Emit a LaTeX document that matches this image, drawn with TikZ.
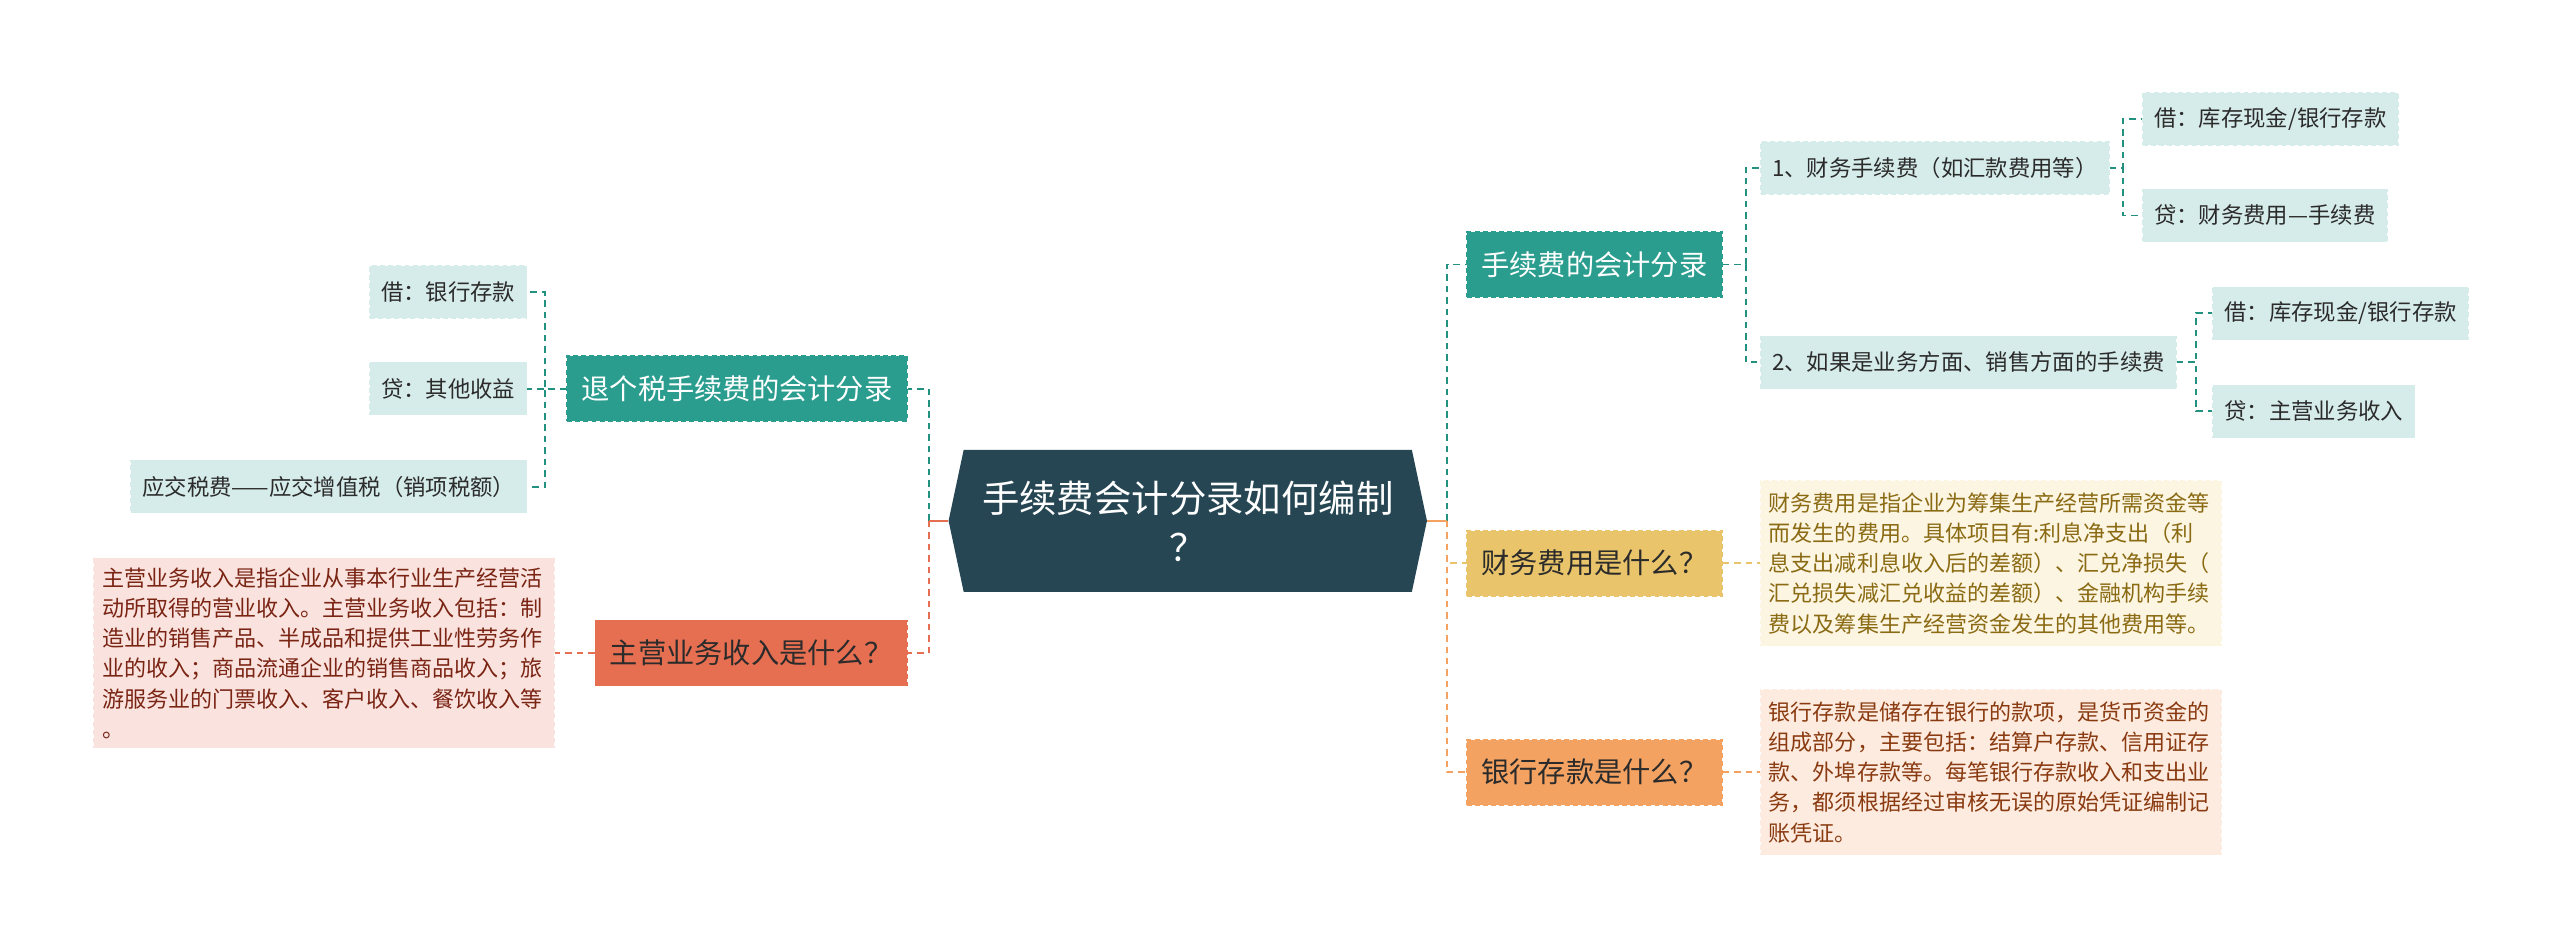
\documentclass[tikz,border=0pt]{standalone}
\usepackage{fontspec}
\newfontfamily\cjk{Noto Sans CJK SC}
\usetikzlibrary{shapes.symbols, positioning, calc}

\definecolor{rootbg}{HTML}{264653}
\definecolor{tealbg}{HTML}{2A9D8F}
\definecolor{tealline}{HTML}{23917F}
\definecolor{yellowbg}{HTML}{E9C46A}
\definecolor{orangebg}{HTML}{F4A261}
\definecolor{coralbg}{HTML}{E76F51}
\definecolor{leafbg}{HTML}{D6ECEA}
\definecolor{pinkbg}{HTML}{FAE3DE}
\definecolor{creambg}{HTML}{FCF5E2}
\definecolor{peachbg}{HTML}{FDEBDF}
\definecolor{pinktxt}{HTML}{7A2414}
\definecolor{creamtxt}{HTML}{8A6A12}
\definecolor{peachtxt}{HTML}{8A3A10}
\definecolor{darktxt}{HTML}{2B2B2B}

\tikzset{
  rootbox/.style={shape=signal, signal to=west and east, signal pointer angle=156,
    fill=rootbg, text=white, minimum width=293pt, minimum height=87pt, inner sep=0pt,
    text width=262pt, align=center, font=\cjk\fontsize{22.9}{30}\selectfont},
  topic/.style={font=\cjk\fontsize{17.3}{20}\selectfont, inner xsep=9pt, inner ysep=0pt,
    minimum height=40pt, dash pattern=on 3pt off 2pt, line width=0.8pt},
  leaf/.style={font=\cjk\fontsize{13.7}{16}\selectfont, fill=leafbg, draw=leafbg, text=darktxt,
    inner xsep=7pt, inner ysep=0pt, minimum height=32pt, dash pattern=on 3pt off 2pt, line width=0.8pt},
  desc/.style={font=\cjk\fontsize{13.5}{18.5}\selectfont, align=left, text width=272pt,
    inner xsep=5pt, inner ysep=0pt, dash pattern=on 3pt off 2pt, line width=0.8pt},
  link/.style={line width=1.2pt, dash pattern=on 4pt off 3pt},
  stub/.style={line width=1.4pt}
}

\begin{document}
\begin{tikzpicture}[x=1pt, y=-1pt]
  \useasboundingbox (0,0) rectangle (1568,583);

  \coordinate (root)  at (727.5, 319);
  \coordinate (tui)   at (556, 238);
  \coordinate (zhu)   at (556, 400);
  \coordinate (sxf)   at (898, 162);
  \coordinate (cwf)   at (898, 345);
  \coordinate (yhc)   at (898, 473);

  % centre
  \node[rootbox] (ROOT) at (root) {手续费会计分录如何编制\\？};

  % left side
  \node[topic, fill=tealbg, draw=tealbg, text=white, anchor=east] (TUI) at (tui) {退个税手续费的会计分录};
  \node[leaf, anchor=east] (JIE) at (323, 179) {借：银行存款};
  \node[leaf, anchor=east] (DAI) at (323, 238) {贷：其他收益};
  \node[leaf, anchor=east] (YJS) at (323, 298) {应交税费——应交增值税（销项税额）};

  \node[topic, fill=coralbg, draw=coralbg, text=darktxt, anchor=east] (ZHU) at (zhu) {主营业务收入是什么？};
  \node[desc, fill=pinkbg, draw=pinkbg, text=pinktxt, minimum height=116pt, anchor=east] (ZHUD) at (340, 400)
    {主营业务收入是指企业从事本行业生产经营活\\动所取得的营业收入。主营业务收入包括：制\\造业的销售产品、半成品和提供工业性劳务作\\业的收入；商品流通企业的销售商品收入；旅\\游服务业的门票收入、客户收入、餐饮收入等\\。};

  % right side
  \node[topic, fill=tealbg, draw=tealbg, text=white, anchor=west] (SXF) at (sxf) {手续费的会计分录};
  \node[leaf, anchor=west] (ONE) at (1078, 103) {1、财务手续费（如汇款费用等）};
  \node[leaf, anchor=west] (TWO) at (1078, 222) {2、如果是业务方面、销售方面的手续费};
  \node[leaf, anchor=west] (ONEA) at (1312, 73) {借：库存现金/银行存款};
  \node[leaf, anchor=west] (ONEB) at (1312, 132) {贷：财务费用—手续费};
  \node[leaf, anchor=west] (TWOA) at (1355, 192) {借：库存现金/银行存款};
  \node[leaf, anchor=west] (TWOB) at (1355, 252) {贷：主营业务收入};

  \node[topic, fill=yellowbg, draw=yellowbg, text=darktxt, anchor=west] (CWF) at (cwf) {财务费用是什么？};
  \node[desc, fill=creambg, draw=creambg, text=creamtxt, minimum height=101pt, anchor=west] (CWFD) at (1078, 345)
    {财务费用是指企业为筹集生产经营所需资金等\\而发生的费用。具体项目有:利息净支出（利\\息支出减利息收入后的差额）、汇兑净损失（\\汇兑损失减汇兑收益的差额）、金融机构手续\\费以及筹集生产经营资金发生的其他费用等。};

  \node[topic, fill=orangebg, draw=orangebg, text=darktxt, anchor=west] (YHC) at (yhc) {银行存款是什么？};
  \node[desc, fill=peachbg, draw=peachbg, text=peachtxt, minimum height=101pt, anchor=west] (YHCD) at (1078, 473)
    {银行存款是储存在银行的款项，是货币资金的\\组成部分，主要包括：结算户存款、信用证存\\款、外埠存款等。每笔银行存款收入和支出业\\务，都须根据经过审核无误的原始凭证编制记\\账凭证。};

  % connectors
  \coordinate (rootL) at ($(ROOT.west)+(-12,0)$);
  \coordinate (rootR) at ($(ROOT.east)+(12,0)$);

  \draw[link, tealline] (rootL) |- (TUI.east);
  \draw[link, coralbg] (rootL) |- (ZHU.east);
  \draw[stub, coralbg] (ROOT.west) -- (rootL);
  \draw[link, tealline] (TUI.west) -- ++(-13,0) |- (JIE.east);
  \draw[link, tealline] (TUI.west) -- (DAI.east);
  \draw[link, tealline] (TUI.west) -- ++(-13,0) |- (YJS.east);
  \draw[link, coralbg] (ZHU.west) -- (ZHUD.east);

  \draw[link, tealline] (rootR) |- (SXF.west);
  \draw[link, yellowbg] (rootR) |- (CWF.west);
  \draw[link, orangebg] (rootR) |- (YHC.west);
  \draw[stub, orangebg] (ROOT.east) -- (rootR);
  \draw[link, tealline] (SXF.east) -- ++(14,0) |- (ONE.west);
  \draw[link, tealline] (SXF.east) -- ++(14,0) |- (TWO.west);
  \draw[link, tealline] (ONE.east) -- ++(8,0) |- (ONEA.west);
  \draw[link, tealline] (ONE.east) -- ++(8,0) |- (ONEB.west);
  \draw[link, tealline] (TWO.east) -- ++(12,0) |- (TWOA.west);
  \draw[link, tealline] (TWO.east) -- ++(12,0) |- (TWOB.west);
  \draw[link, yellowbg] (CWF.east) -- (CWFD.west);
  \draw[link, orangebg] (YHC.east) -- (YHCD.west);
\end{tikzpicture}
\end{document}
